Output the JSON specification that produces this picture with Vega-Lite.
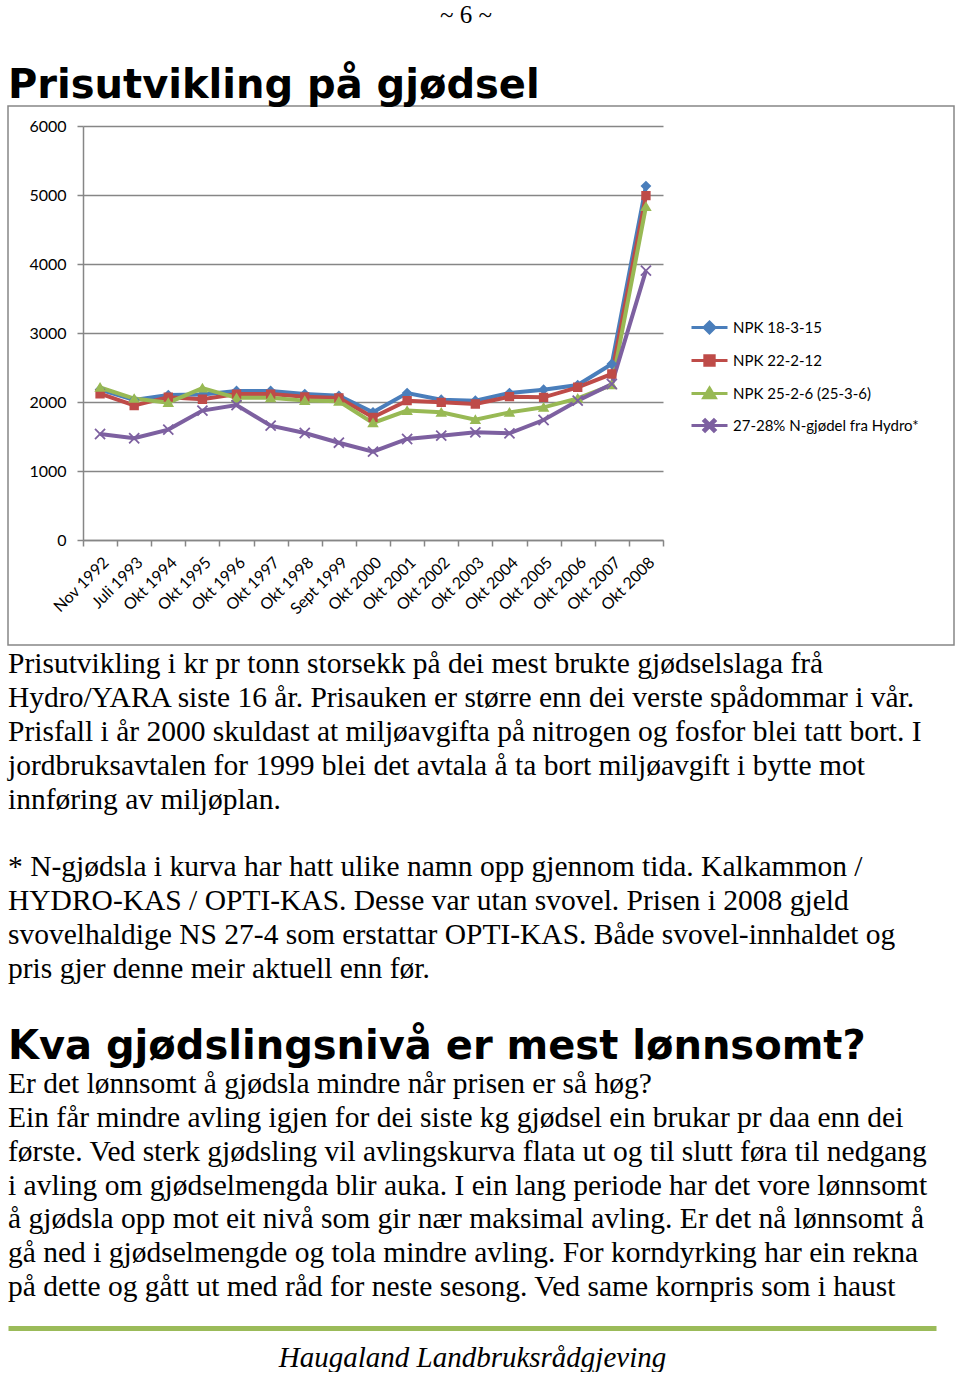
{
  "$schema": "https://vega.github.io/schema/vega-lite/v6.json",
  "padding": {"left": 7, "top": 3, "right": 0, "bottom": 0},
  "background": "white",
  "title": {"text": "~ 6 ~", "anchor": "middle", "font": "Liberation Serif", "fontSize": 25, "fontWeight": "normal", "baseline": "alphabetic", "offset": 16.5, "color": "black", "dx": -15},
  "spacing": 0,
  "config": {"view": {"stroke": null}},
  "vconcat": [
    {
      "width": 946,
      "height": 539,
      "view": {"stroke": "#868686", "strokeWidth": 1.5},
      "title": {"text": "Prisutvikling på gjødsel", "anchor": "start", "font": "DejaVu Sans", "fontSize": 40, "fontWeight": "bold", "color": "black", "baseline": "alphabetic", "offset": -31.5},
      "data": {"values": [
        {"date": "Nov 1992", "series": "NPK 18-3-15", "price": 2180},
        {"date": "Juli 1993", "series": "NPK 18-3-15", "price": 2030},
        {"date": "Okt 1994", "series": "NPK 18-3-15", "price": 2100},
        {"date": "Okt 1995", "series": "NPK 18-3-15", "price": 2110},
        {"date": "Okt 1996", "series": "NPK 18-3-15", "price": 2160},
        {"date": "Okt 1997", "series": "NPK 18-3-15", "price": 2160},
        {"date": "Okt 1998", "series": "NPK 18-3-15", "price": 2115},
        {"date": "Sept 1999", "series": "NPK 18-3-15", "price": 2090},
        {"date": "Okt 2000", "series": "NPK 18-3-15", "price": 1850},
        {"date": "Okt 2001", "series": "NPK 18-3-15", "price": 2130},
        {"date": "Okt 2002", "series": "NPK 18-3-15", "price": 2033},
        {"date": "Okt 2003", "series": "NPK 18-3-15", "price": 2019},
        {"date": "Okt 2004", "series": "NPK 18-3-15", "price": 2130},
        {"date": "Okt 2005", "series": "NPK 18-3-15", "price": 2179},
        {"date": "Okt 2006", "series": "NPK 18-3-15", "price": 2246},
        {"date": "Okt 2007", "series": "NPK 18-3-15", "price": 2551},
        {"date": "Okt 2008", "series": "NPK 18-3-15", "price": 5130},
        {"date": "Nov 1992", "series": "NPK 22-2-12", "price": 2120},
        {"date": "Juli 1993", "series": "NPK 22-2-12", "price": 1950},
        {"date": "Okt 1994", "series": "NPK 22-2-12", "price": 2070},
        {"date": "Okt 1995", "series": "NPK 22-2-12", "price": 2040},
        {"date": "Okt 1996", "series": "NPK 22-2-12", "price": 2115},
        {"date": "Okt 1997", "series": "NPK 22-2-12", "price": 2115},
        {"date": "Okt 1998", "series": "NPK 22-2-12", "price": 2075},
        {"date": "Sept 1999", "series": "NPK 22-2-12", "price": 2058},
        {"date": "Okt 2000", "series": "NPK 22-2-12", "price": 1778},
        {"date": "Okt 2001", "series": "NPK 22-2-12", "price": 2019},
        {"date": "Okt 2002", "series": "NPK 22-2-12", "price": 1995},
        {"date": "Okt 2003", "series": "NPK 22-2-12", "price": 1971},
        {"date": "Okt 2004", "series": "NPK 22-2-12", "price": 2077},
        {"date": "Okt 2005", "series": "NPK 22-2-12", "price": 2068},
        {"date": "Okt 2006", "series": "NPK 22-2-12", "price": 2213},
        {"date": "Okt 2007", "series": "NPK 22-2-12", "price": 2406},
        {"date": "Okt 2008", "series": "NPK 22-2-12", "price": 4990},
        {"date": "Nov 1992", "series": "NPK 25-2-6 (25-3-6)", "price": 2210},
        {"date": "Juli 1993", "series": "NPK 25-2-6 (25-3-6)", "price": 2050},
        {"date": "Okt 1994", "series": "NPK 25-2-6 (25-3-6)", "price": 1990},
        {"date": "Okt 1995", "series": "NPK 25-2-6 (25-3-6)", "price": 2200},
        {"date": "Okt 1996", "series": "NPK 25-2-6 (25-3-6)", "price": 2060},
        {"date": "Okt 1997", "series": "NPK 25-2-6 (25-3-6)", "price": 2060},
        {"date": "Okt 1998", "series": "NPK 25-2-6 (25-3-6)", "price": 2020},
        {"date": "Sept 1999", "series": "NPK 25-2-6 (25-3-6)", "price": 2010},
        {"date": "Okt 2000", "series": "NPK 25-2-6 (25-3-6)", "price": 1696},
        {"date": "Okt 2001", "series": "NPK 25-2-6 (25-3-6)", "price": 1875},
        {"date": "Okt 2002", "series": "NPK 25-2-6 (25-3-6)", "price": 1850},
        {"date": "Okt 2003", "series": "NPK 25-2-6 (25-3-6)", "price": 1744},
        {"date": "Okt 2004", "series": "NPK 25-2-6 (25-3-6)", "price": 1850},
        {"date": "Okt 2005", "series": "NPK 25-2-6 (25-3-6)", "price": 1923},
        {"date": "Okt 2006", "series": "NPK 25-2-6 (25-3-6)", "price": 2053},
        {"date": "Okt 2007", "series": "NPK 25-2-6 (25-3-6)", "price": 2246},
        {"date": "Okt 2008", "series": "NPK 25-2-6 (25-3-6)", "price": 4830},
        {"date": "Nov 1992", "series": "27-28% N-gjødel fra Hydro*", "price": 1536},
        {"date": "Juli 1993", "series": "27-28% N-gjødel fra Hydro*", "price": 1475},
        {"date": "Okt 1994", "series": "27-28% N-gjødel fra Hydro*", "price": 1600},
        {"date": "Okt 1995", "series": "27-28% N-gjødel fra Hydro*", "price": 1875},
        {"date": "Okt 1996", "series": "27-28% N-gjødel fra Hydro*", "price": 1955},
        {"date": "Okt 1997", "series": "27-28% N-gjødel fra Hydro*", "price": 1657},
        {"date": "Okt 1998", "series": "27-28% N-gjødel fra Hydro*", "price": 1551},
        {"date": "Sept 1999", "series": "27-28% N-gjødel fra Hydro*", "price": 1410},
        {"date": "Okt 2000", "series": "27-28% N-gjødel fra Hydro*", "price": 1280},
        {"date": "Okt 2001", "series": "27-28% N-gjødel fra Hydro*", "price": 1464},
        {"date": "Okt 2002", "series": "27-28% N-gjødel fra Hydro*", "price": 1512},
        {"date": "Okt 2003", "series": "27-28% N-gjødel fra Hydro*", "price": 1560},
        {"date": "Okt 2004", "series": "27-28% N-gjødel fra Hydro*", "price": 1546},
        {"date": "Okt 2005", "series": "27-28% N-gjødel fra Hydro*", "price": 1739},
        {"date": "Okt 2006", "series": "27-28% N-gjødel fra Hydro*", "price": 2019},
        {"date": "Okt 2007", "series": "27-28% N-gjødel fra Hydro*", "price": 2261},
        {"date": "Okt 2008", "series": "27-28% N-gjødel fra Hydro*", "price": 3903}
      ]},
      "encoding": {
        "x": {
          "field": "date", "type": "ordinal",
          "sort": ["Nov 1992", "Juli 1993", "Okt 1994", "Okt 1995", "Okt 1996", "Okt 1997", "Okt 1998", "Sept 1999", "Okt 2000", "Okt 2001", "Okt 2002", "Okt 2003", "Okt 2004", "Okt 2005", "Okt 2006", "Okt 2007", "Okt 2008"],
          "scale": {"type": "band", "range": [75, 655], "paddingInner": 0, "paddingOuter": 0},
          "axis": {"title": null, "offset": -105, "labelAngle": -45, "labelFont": "Lato", "labelFontSize": 16, "labelColor": "black", "domainColor": "#868686", "domainWidth": 1.5, "tickColor": "#868686", "tickWidth": 1.5, "tickSize": 6, "tickBand": "extent", "grid": false, "labelPadding": 8, "labelOverlap": false}
        },
        "y": {
          "field": "price", "type": "quantitative",
          "scale": {"domain": [0, 6000], "range": [434, 20], "nice": false},
          "axis": {"title": null, "offset": -75, "values": [0, 1000, 2000, 3000, 4000, 5000, 6000], "format": "d", "grid": true, "gridColor": "#868686", "gridWidth": 1.5, "domainColor": "#868686", "domainWidth": 1.5, "tickColor": "#868686", "tickWidth": 1.5, "tickSize": 6, "labelPadding": 11, "labelFont": "Lato", "labelFontSize": 16, "labelColor": "black"}
        },
        "color": {
          "field": "series", "type": "nominal",
          "scale": {"domain": ["NPK 18-3-15", "NPK 22-2-12", "NPK 25-2-6 (25-3-6)", "27-28% N-gjødel fra Hydro*"], "range": ["#4A7EBB", "#BE4B48", "#98B954", "#7D60A0"]},
          "legend": {
            "orient": "none", "legendX": 682, "legendY": 202, "title": null,
            "labelFont": "Lato", "labelFontSize": 15, "labelColor": "black", "labelLimit": 400,
            "symbolSize": 1296, "symbolStrokeWidth": 3, "labelOffset": 4, "rowPadding": 2
          }
        }
      },
      "layer": [
        {"mark": {"type": "line", "strokeWidth": 4}},
        {
          "mark": {"type": "point", "filled": true, "size": 1296, "opacity": 1},
          "encoding": {
            "shape": {"field": "series", "type": "nominal",
              "scale": {"domain": ["NPK 18-3-15", "NPK 22-2-12", "NPK 25-2-6 (25-3-6)", "27-28% N-gjødel fra Hydro*"],
                "range": ["M-1,0H1M0,-0.3L0.3,0L0,0.3L-0.3,0Z", "M-1,0H1M-0.26,-0.26H0.26V0.26H-0.26Z", "M-1,0H1M0,-0.3L0.32,0.24H-0.32Z", "M-1,0H1M-0.245,-0.315L0.315,0.245L0.245,0.315L-0.315,-0.245ZM-0.315,0.245L0.245,-0.315L0.315,-0.245L-0.245,0.315Z"]},
              "legend": {
                "orient": "none", "legendX": 682, "legendY": 202, "title": null,
                "labelFont": "Lato", "labelFontSize": 15, "labelColor": "black", "labelLimit": 400,
                "symbolSize": 1296, "symbolStrokeWidth": 3, "labelOffset": 4, "rowPadding": 2
              }
            }
          }
        }
      ]
    },
    {
      "width": 946,
      "height": 381,
      "data": {"values": [
        {"line": 1, "text": "Prisutvikling i kr pr tonn storsekk på dei mest brukte gjødselslaga frå"},
        {"line": 2, "text": "Hydro/YARA siste 16 år. Prisauken er større enn dei verste spådommar i vår."},
        {"line": 3, "text": "Prisfall i år 2000 skuldast at miljøavgifta på nitrogen og fosfor blei tatt bort. I"},
        {"line": 4, "text": "jordbruksavtalen for 1999 blei det avtala å ta bort miljøavgift i bytte mot"},
        {"line": 5, "text": "innføring av miljøplan."},
        {"line": 7, "text": "* N-gjødsla  i kurva har hatt ulike namn opp gjennom tida. Kalkammon /"},
        {"line": 8, "text": "HYDRO-KAS / OPTI-KAS. Desse var utan svovel. Prisen i 2008 gjeld"},
        {"line": 9, "text": "svovelhaldige NS 27-4 som erstattar OPTI-KAS. Både svovel-innhaldet og"},
        {"line": 10, "text": "pris gjer denne meir aktuell enn før."}
      ]},
      "mark": {"type": "text", "align": "left", "baseline": "alphabetic", "font": "Liberation Serif", "fontSize": 29.5, "color": "black"},
      "encoding": {
        "x": {"datum": 0, "type": "quantitative", "scale": {"domain": [0, 1]}, "axis": null},
        "y": {"field": "line", "type": "quantitative", "scale": {"domain": [0.192, 11.464], "reverse": true, "nice": false, "zero": false}, "axis": null},
        "text": {"field": "text"}
      }
    },
    {
      "width": 946,
      "height": 235,
      "title": {"text": "Kva gjødslingsnivå er mest lønnsomt?", "anchor": "start", "font": "DejaVu Sans", "fontSize": 40, "fontWeight": "bold", "color": "black", "baseline": "alphabetic", "offset": -30},
      "data": {"values": [
        {"line": 1, "text": "Er det lønnsomt å gjødsla mindre når prisen er så høg?"},
        {"line": 2, "text": "Ein får mindre avling igjen for dei siste kg gjødsel ein brukar pr daa enn dei"},
        {"line": 3, "text": "første. Ved  sterk gjødsling vil avlingskurva flata ut og til slutt føra til nedgang"},
        {"line": 4, "text": "i avling om gjødselmengda blir auka. I ein lang periode har det vore lønnsomt"},
        {"line": 5, "text": "å gjødsla opp mot eit nivå som gir nær maksimal avling. Er det nå lønnsomt å"},
        {"line": 6, "text": "gå ned i gjødselmengde og tola mindre avling. For korndyrking har ein rekna"},
        {"line": 7, "text": "på dette og gått ut med råd for neste sesong. Ved same kornpris som i haust"}
      ]},
      "mark": {"type": "text", "align": "left", "baseline": "alphabetic", "font": "Liberation Serif", "fontSize": 29.5, "color": "black"},
      "encoding": {
        "x": {"datum": 0, "type": "quantitative", "scale": {"domain": [0, 1], "range": [0, 928]},
          "axis": {"orient": "bottom", "offset": 24, "domainColor": "#9BBB59", "domainWidth": 5, "ticks": false, "labels": false, "grid": false, "title": "Haugaland Landbruksrådgjeving", "titleFont": "Liberation Serif", "titleFontStyle": "italic", "titleFontWeight": "normal", "titleFontSize": 29, "titleColor": "black", "titlePadding": 15}},
        "y": {"field": "line", "type": "quantitative", "scale": {"domain": [0.281, 7.234], "reverse": true, "nice": false, "zero": false}, "axis": null},
        "text": {"field": "text"}
      }
    }
  ]
}
